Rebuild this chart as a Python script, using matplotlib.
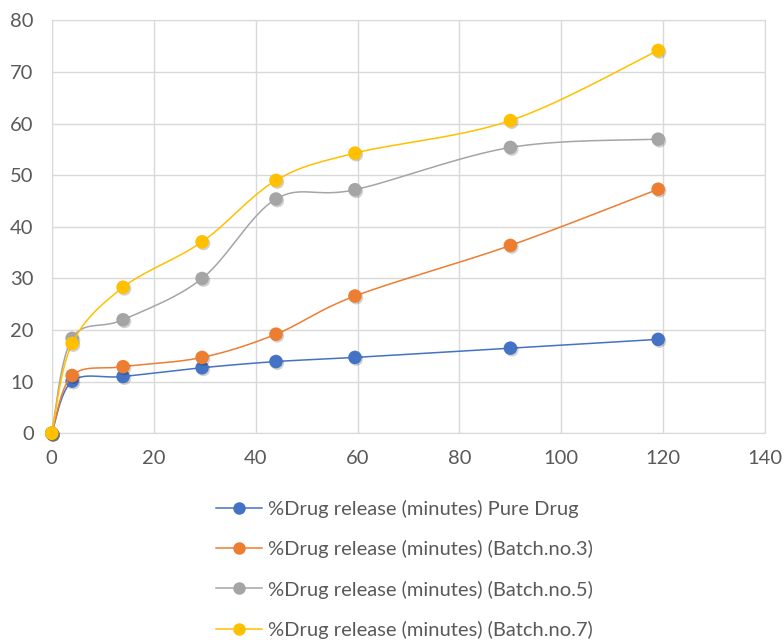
import numpy as np
import matplotlib.pyplot as plt
import matplotlib.patheffects as pe
from matplotlib.lines import Line2D

plt.rcParams['font.family'] = ['Lato', 'DejaVu Sans']

# time points (minutes) and % drug release
time_min = [0, 4, 14, 29.5, 44, 59.5, 90, 119]
pure_drug = [0, 10.1, 11.0, 12.7, 13.9, 14.7, 16.5, 18.2]
batch_3 = [0, 11.2, 12.9, 14.7, 19.2, 26.6, 36.4, 47.3]
batch_5 = [0, 18.4, 22.0, 30.0, 45.4, 47.2, 55.4, 57.0]
batch_7 = [0, 17.4, 28.3, 37.1, 49.0, 54.3, 60.6, 74.2]

labels = ["%Drug release (minutes) Pure Drug",
          "%Drug release (minutes) (Batch.no.3)",
          "%Drug release (minutes) (Batch.no.5)",
          "%Drug release (minutes) (Batch.no.7)"]
colors = ["#4472C4", "#ED7D31", "#A5A5A5", "#FFC000"]


def smooth(x, y, n=30):
    # Excel style smoothed line: Catmull-Rom segments as cubic Bezier
    p = np.column_stack([x, y]).astype(float)
    pts = np.vstack([p[0], p, p[-1]])
    out = []
    t = np.linspace(0, 1, n)[:, None]
    for i in range(1, len(pts) - 2):
        p0, p1, p2, p3 = pts[i - 1], pts[i], pts[i + 1], pts[i + 2]
        c1 = p1 + (p2 - p0) / 6
        c2 = p2 - (p3 - p1) / 6
        seg = ((1 - t) ** 3) * p1 + 3 * ((1 - t) ** 2) * t * c1 + 3 * (1 - t) * t ** 2 * c2 + t ** 3 * p2
        out.append(seg)
    out = np.vstack(out)
    return out[:, 0], out[:, 1]


fig = plt.figure(figsize=(7.84, 6.4), dpi=100)
ax = fig.add_axes([0.066, 0.323, 0.910, 0.645])

shadow = [pe.SimplePatchShadow(offset=(1, -1.2), shadow_rgbFace="black", alpha=0.18), pe.Normal()]
for i, series in enumerate([pure_drug, batch_3, batch_5, batch_7]):
    sx, sy = smooth(time_min, series)
    ax.plot(sx, sy, color=colors[i], lw=1.1, zorder=3 + 2 * i)
    ax.scatter(time_min, series, s=95, color=colors[i], zorder=4 + 2 * i,
               linewidths=0, path_effects=shadow, clip_on=False)

ax.set_xlim(0, 140)
ax.set_ylim(0, 80)
ax.set_xticks(range(0, 141, 20))
ax.set_yticks(range(0, 81, 10))
ax.grid(True, color="#D9D9D9", lw=1)
ax.set_axisbelow(True)
for s in ax.spines.values():
    s.set_color("#D9D9D9")
ax.tick_params(length=0, labelsize=14.5, labelcolor="#595959")
ax.tick_params(axis="y", pad=13)
ax.tick_params(axis="x", pad=12)

handles = [Line2D([0], [0], color=c, lw=1.1, marker="o", markersize=9, markeredgewidth=0)
           for c in colors]
fig.legend(handles, labels, loc="upper left", bbox_to_anchor=(0.252, 0.247),
           frameon=False, fontsize=14.5, labelcolor="#595959", handlelength=2.3,
           handletextpad=0.3, labelspacing=1.1)

fig.savefig("out.png", dpi=100)
